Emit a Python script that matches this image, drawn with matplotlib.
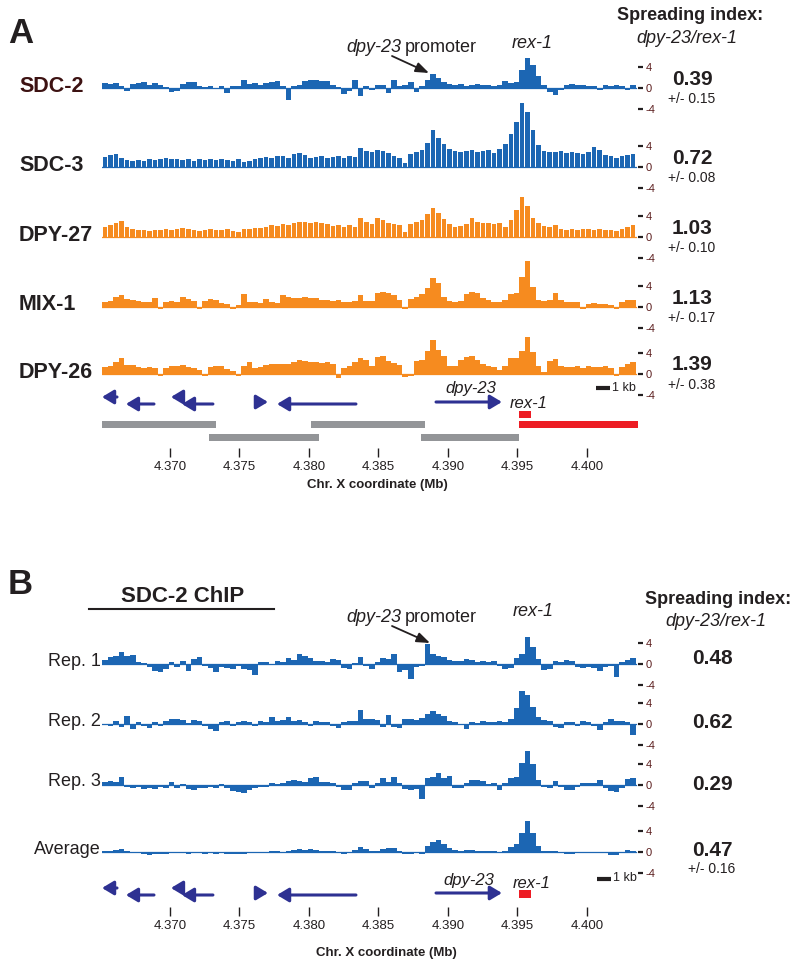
import matplotlib
matplotlib.use('Agg')
import matplotlib.pyplot as plt
import numpy as np

plt.rcParams['font.family'] = ['Liberation Sans', 'DejaVu Sans']

W, H = 800, 969
fig = plt.figure(figsize=(8, 9.69), dpi=100)

# genomic window (Mb) and bin layout of the signal tracks
X0, X1 = 4.36511, 4.40367
BIN_START = 4.36512
BIN = 0.0004

# ---------------- data: ChIP signal (log2 enrichment), 400 bp bins ----------------
sdc2 = [0.9, 0.8, 1.0, 0.4, -0.5, 0.7, 1.0, 1.2, 0.6, 0.9, 0.6, 0.2, -0.8, -0.6, 0.8, 1.2,
        1.1, 0.4, 0.1, 0.3, -0.2, 0.3, -1.0, 0.3, 0.4, 1.6, 0.8, 1.0, 0.6, 0.9, 1.1, 1.4,
        0.4, -2.2, 0.4, 0.5, 1.4, 1.5, 1.6, 1.3, 1.4, 0.6, 0.2, -1.2, -0.6, 1.6, -1.6, 0.4,
        -0.3, 0.5, 0.6, -1.0, 1.5, 0.3, 0.5, 1.2, -0.8, 0.4, 1.6, 2.6, 2.0, 1.2, 0.8, 0.5,
        0.7, 0.4, 0.6, 0.8, 0.5, 0.6, 0.4, 0.5, 1.4, 1.0, 1.1, 3.4, 5.7, 4.4, 2.2, 0.6,
        -0.8, -1.4, -0.4, 0.6, 0.7, 0.5, 0.6, 0.4, 0.4, -0.4, 0.5, 0.3, 0.6, 0.4, -0.4, 0.5]
sdc3 = [1.9, 2.2, 2.5, 1.8, 1.3, 1.2, 1.4, 1.1, 1.5, 1.3, 1.6, 1.7, 1.5, 1.6, 1.4, 1.5,
        1.2, 1.6, 1.4, 1.5, 1.3, 1.6, 1.4, 1.2, 1.5, 1.0, 1.1, 1.6, 1.8, 1.9, 1.7, 2.0,
        2.1, 1.8, 2.4, 2.7, 2.2, 1.8, 1.9, 2.0, 1.8, 1.9, 2.0, 1.8, 2.0, 1.9, 3.6, 3.1,
        2.8, 3.2, 3.0, 2.6, 2.0, 1.7, 0.8, 2.4, 2.8, 3.3, 4.5, 7.0, 5.6, 4.4, 3.4, 3.0,
        2.8, 3.1, 3.3, 2.9, 3.0, 3.2, 2.7, 3.5, 4.3, 6.2, 8.5, 12.2, 10.5, 7.0, 4.2, 3.1,
        2.9, 2.8, 3.0, 2.6, 2.8, 2.7, 2.5, 2.9, 3.9, 3.2, 2.2, 2.0, 1.8, 2.1, 2.3, 2.4]
dpy27 = [1.9, 2.2, 2.6, 3.0, 2.0, 1.6, 1.3, 1.4, 1.2, 1.4, 1.3, 1.5, 1.4, 1.5, 1.7, 1.6,
         1.4, 1.2, 1.3, 1.5, 1.4, 1.3, 1.5, 1.2, 1.0, 1.6, 1.5, 1.7, 1.8, 2.0, 2.2, 2.1,
         2.4, 2.3, 2.6, 2.8, 2.9, 2.7, 2.9, 2.6, 2.5, 2.1, 2.2, 2.0, 2.3, 1.9, 3.6, 2.8,
         2.5, 3.6, 3.3, 2.6, 2.4, 2.2, 1.0, 2.5, 2.9, 3.3, 4.3, 5.6, 4.6, 3.5, 2.4, 2.0,
         2.1, 2.4, 3.6, 2.9, 2.6, 2.7, 2.5, 2.6, 2.0, 3.3, 5.2, 7.6, 6.0, 3.6, 2.6, 2.1,
         2.0, 2.2, 1.5, 1.4, 1.6, 1.4, 1.5, 1.6, 1.4, 1.5, 1.3, 1.4, 1.1, 1.5, 2.0, 2.3]
mix1 = [1.0, 1.2, 2.0, 2.3, 1.5, 1.3, 1.1, 0.9, 1.0, 1.8, -0.3, 1.0, 1.1, 1.0, 1.9, 1.6,
        1.2, -0.4, 1.2, 1.5, 1.3, 0.8, 0.6, -0.3, 0.4, 2.4, 0.9, 1.0, 0.8, 1.5, 0.9, 0.8,
        2.3, 1.9, 1.8, 1.7, 1.9, 1.7, 1.8, 1.4, 1.3, 1.2, 1.3, 1.0, 1.0, 1.1, 2.2, 1.1,
        1.2, 2.6, 2.8, 2.7, 2.3, 1.4, -0.4, 1.6, 1.9, 2.4, 3.6, 5.6, 4.6, 2.0, 1.2, 1.0,
        1.1, 2.4, 2.8, 2.6, 1.7, 1.4, 1.0, 0.9, 1.4, 2.4, 2.6, 5.8, 8.8, 3.8, 1.4, 1.2,
        1.3, 2.7, 1.3, 1.0, 0.9, 1.0, -0.4, 0.6, 0.7, 0.5, 0.6, 0.4, -0.3, 0.9, 1.4, 1.3]
dpy26 = [1.4, 1.6, 2.2, 3.0, 1.8, 1.7, 1.3, 1.2, 1.4, 1.1, -0.4, 1.2, 1.6, 1.5, 1.7, 1.4,
         1.2, 0.8, -0.3, 1.3, 1.6, 1.5, 1.0, 0.5, -0.4, 1.5, 2.2, 1.2, 1.3, 1.8, 1.9, 2.0,
         1.9, 2.0, 2.2, 2.6, 2.4, 2.3, 2.2, 2.1, 2.3, 2.0, -0.7, 1.2, 1.5, 2.2, 3.1, 2.6,
         1.6, 3.3, 3.5, 2.4, 2.1, 1.8, -0.5, -0.3, 2.4, 2.6, 4.3, 6.5, 4.6, 3.4, 1.6, 1.5,
         2.6, 3.2, 3.4, 2.6, 2.0, 1.6, 1.4, 0.8, 1.5, 3.1, 3.0, 4.4, 7.0, 4.2, 1.5, 0.3,
         2.4, 2.8, 1.5, 1.3, 1.4, 1.6, 1.2, 1.5, 1.4, 1.3, 1.5, 1.2, -0.4, 1.3, 2.0, 2.2]
rep1 = [0.8, 1.3, 1.6, 2.2, 1.5, 1.8, 0.3, 0.1, -0.6, -1.3, -1.5, -1.0, 0.4, -0.5, 0.6, -1.4,
        0.9, 1.3, -0.3, -0.8, -1.5, -0.6, -0.8, -0.9, -0.4, -1.0, -1.2, -2.0, 0.3, 0.4, -0.2, 0.5,
        0.3, 1.1, 0.8, 1.9, 1.6, 1.2, 0.6, 0.5, 0.4, 1.0, 0.7, -0.7, -0.9, 0.2, 1.3, -0.4,
        -1.0, 0.3, 1.2, 1.0, 2.0, -1.5, -1.2, -2.8, -0.5, -0.3, 3.8, 1.9, 1.6, 1.4, 0.8, 0.5,
        0.6, 1.0, 0.8, 0.4, 0.6, 0.3, 0.5, -0.4, -1.0, -0.8, 1.2, 2.0, 5.2, 3.2, 1.0, -1.2,
        -0.9, 0.6, 0.4, 0.7, 0.5, -0.5, -0.8, -0.6, -0.7, -1.4, -0.5, -0.3, -2.4, 0.4, 0.8, 1.1]
rep2 = [-0.2, -0.4, 0.5, -0.6, 1.5, -0.9, 0.3, -0.3, -0.8, 0.4, -0.3, 0.6, 0.9, 1.0, 0.7, 0.2,
        0.8, 0.5, -0.4, -0.9, -1.4, 0.3, 0.5, -0.3, 0.4, 0.6, 0.3, -0.3, 0.5, 0.4, 1.3, 0.6,
        0.8, 1.4, 0.6, 0.7, 0.4, -0.3, 0.5, 0.3, 0.4, -0.4, -0.8, 0.4, 0.5, 0.6, 2.6, 1.0,
        0.9, 0.8, -0.5, 1.8, -0.6, -0.8, 0.9, 1.0, 0.8, 1.2, 1.9, 2.4, 2.0, 1.6, 0.5, 0.4,
        -0.2, -0.9, 0.3, 0.2, 0.5, 0.3, 0.4, 0.6, 0.3, 0.9, 3.0, 6.2, 5.6, 3.2, 1.3, 0.8,
        0.6, -0.6, -0.8, 0.3, 0.4, -0.3, 0.5, 0.3, -0.4, -1.2, 0.4, 1.0, 0.6, 0.5, 0.4, -2.0]
rep3 = [0.5, 0.8, 0.6, 1.6, -0.4, -0.6, -0.3, -0.7, -0.5, -0.8, -0.4, -0.6, 0.5, -0.5, 0.2, -0.8,
        -0.9, -0.5, -0.6, -0.3, -0.5, 0.2, -0.6, -1.2, -1.4, -1.5, -1.0, -0.5, -0.4, -0.3, 0.3, 0.2,
        0.3, 0.7, 0.9, 0.8, 0.6, 1.4, 1.5, 0.6, 0.5, 0.3, -0.3, -0.9, -1.0, 0.4, 0.8, 0.7,
        -0.6, 0.3, 1.4, 0.5, 1.6, 0.4, -0.8, -0.9, -0.7, -2.6, 1.3, 1.5, 2.2, 1.3, 1.7, -0.5,
        -0.6, 0.4, 1.0, 0.9, 0.8, 0.2, 0.3, -0.9, 0.4, 1.4, 1.6, 4.2, 6.4, 4.0, 1.0, -0.4,
        -0.5, 0.7, -0.3, -0.9, -1.0, -0.3, 0.4, 0.3, 0.4, 0.9, -0.5, -1.2, -1.4, -0.6, 1.2, 1.3]
average = [0.2, 0.2, 0.3, 0.6, 0.1, -0.1, -0.2, -0.4, -0.5, -0.4, -0.3, -0.4, -0.1, -0.2, -0.1, -0.3,
           -0.2, -0.1, -0.3, -0.2, -0.3, -0.1, -0.3, -0.4, -0.3, -0.3, -0.2, -0.2, -0.1, -0.1, 0.1, 0.1,
           0.0, 0.2, 0.4, 0.5, 0.4, 0.5, 0.4, 0.2, 0.1, 0.1, -0.2, -0.3, -0.2, 0.3, 1.0, 0.6,
           0.2, 0.1, 0.6, 0.7, 0.8, 0.2, -0.4, -0.4, -0.2, -0.3, 1.2, 2.0, 2.2, 1.5, 0.8, 0.3,
           0.2, 0.3, 0.3, 0.2, 0.1, 0.1, 0.1, -0.2, 0.1, 0.9, 1.5, 3.6, 6.0, 3.6, 1.2, 0.2,
           0.2, 0.1, -0.2, -0.4, -0.4, -0.2, -0.1, -0.2, -0.2, -0.1, -0.2, -0.5, -0.6, -0.2, 0.4, 0.1]

names_A = ['SDC-2', 'SDC-3', 'DPY-27', 'MIX-1', 'DPY-26']
signals_A = [sdc2, sdc3, dpy27, mix1, dpy26]
index_A = ['0.39', '0.72', '1.03', '1.13', '1.39']
err_A = ['+/- 0.15', '+/- 0.08', '+/- 0.10', '+/- 0.17', '+/- 0.38']

names_B = ['Rep. 1', 'Rep. 2', 'Rep. 3', 'Average']
signals_B = [rep1, rep2, rep3, average]
index_B = ['0.48', '0.62', '0.29', '0.47']
err_B = ['', '', '', '+/- 0.16']

# genes (Mb): tail -> head
gene_tail = [4.36619, 4.36885, 4.37086, 4.37309, 4.37619, 4.38338, 4.38914]
gene_head = [4.36511, 4.36683, 4.37007, 4.37086, 4.37705, 4.37770, 4.39388]
gene_row = [-7, 0, -7, 0, -2, 0, -2]
# segments below the genes (Mb)
seg_start = [4.36511, 4.37281, 4.38014, 4.38806, 4.39511]
seg_end = [4.37331, 4.38072, 4.38834, 4.39511, 4.40367]
seg_row = [0, 1, 0, 1, 0]
seg_is_rex = [False, False, False, False, True]
rex1_site = (4.39511, 4.39597)

xticks = [4.370, 4.375, 4.380, 4.385, 4.390, 4.395, 4.400]

BLUE = '#1c66b3'
ORANGE = '#f68b1f'
TXT = '#231f20'
GENE = '#2e3192'
GRAY = '#939598'
RED = '#ed1c24'
TICKLAB = '#5a1c1c'

colors_A = [BLUE, BLUE, ORANGE, ORANGE, ORANGE]
barred_A = [False, True, True, False, False]
zero_A = [88, 167, 237, 307, 374]
zero_B = [664, 724, 785, 852]
idx_y_B = [658, 722, 784, 850]

U = 5.25  # px per signal unit
LO, HI = -5, 14
XL, XR = 102, 638


def track_axes(zero_px):
    bottom_px = zero_px - LO * U
    ax = fig.add_axes([XL / W, 1 - bottom_px / H, (XR - XL) / W, (HI - LO) * U / H])
    ax.set_xlim(X0, X1)
    ax.set_ylim(LO, HI)
    ax.patch.set_alpha(0)
    for s in ax.spines.values():
        s.set_visible(False)
    ax.set_xticks([])
    ax.yaxis.tick_right()
    ax.set_yticks([-4, 0, 4])
    ax.set_yticklabels(['-4', '0', '4'])
    ax.tick_params(axis='y', length=3.5, width=1.6, pad=2, labelsize=8,
                   color=TXT, labelcolor=TICKLAB)
    return ax


def draw_signal(ax, vals, color, barred):
    v = np.asarray(vals, dtype=float)
    edges = BIN_START + BIN * np.arange(len(v) + 1)
    if barred:
        centers = (edges[:-1] + edges[1:]) / 2
        ax.bar(centers, v, width=BIN * 0.82, color=color, linewidth=0)
    else:
        ax.stairs(v, edges, baseline=0, fill=True, color=color, linewidth=0)
    ax.plot([edges[0], edges[-1]], [0, 0], color=color, lw=0.9)


def gene_axes(top_px, bottom_px):
    ax = fig.add_axes([XL / W, 1 - bottom_px / H, (XR - XL) / W, (bottom_px - top_px) / H])
    ax.set_xlim(X0, X1)
    ax.set_ylim(bottom_px, top_px)
    ax.patch.set_alpha(0)
    for s in ax.spines.values():
        s.set_visible(False)
    ax.set_yticks([])
    ax.set_xticks(xticks)
    ax.set_xticklabels(['%.3f' % t for t in xticks])
    ax.tick_params(axis='x', length=6.5, width=1.0, pad=3, labelsize=9.5,
                   color=TXT, labelcolor=TXT)
    return ax


def draw_genes(ax, base_y):
    for t, h, r in zip(gene_tail, gene_head, gene_row):
        ax.annotate('', xy=(h, base_y + r), xytext=(t, base_y + r),
                    arrowprops=dict(arrowstyle='-|>,head_length=0.7,head_width=0.42',
                                    mutation_scale=10, lw=2.2, color=GENE,
                                    shrinkA=0, shrinkB=0))


# overlay for text in pixel coordinates
ov = fig.add_axes([0, 0, 1, 1])
ov.set_xlim(0, W)
ov.set_ylim(H, 0)
ov.axis('off')

# ---------------- Panel A ----------------
for name, sig, col, barred, z, idx, err in zip(names_A, signals_A, colors_A, barred_A,
                                               zero_A, index_A, err_A):
    ax = track_axes(z)
    draw_signal(ax, sig, col, barred)
    ov.text(19, z - 2, name, ha='left', va='center', fontsize=15.5, fontweight='bold',
            color='#3d1212' if name == 'SDC-2' else TXT)
    ov.text(692, z - 9, idx, ha='center', va='center', fontsize=15, fontweight='bold', color=TXT)
    ov.text(692, z + 11, err, ha='center', va='center', fontsize=10, color=TXT)

gA = gene_axes(380, 448)
draw_genes(gA, 404)
for s0, s1, r, rex in zip(seg_start, seg_end, seg_row, seg_is_rex):
    gA.barh(424.5 + 13 * r, s1 - s0, left=s0, height=7.5, color=RED if rex else GRAY, linewidth=0)
gA.barh(414.5, rex1_site[1] - rex1_site[0], left=rex1_site[0], height=7.5, color=RED, linewidth=0)
gA.plot([4.40065, 4.40165], [388, 388], color=TXT, lw=3, solid_capstyle='butt')
ov.text(612, 388, '1 kb', ha='left', va='center', fontsize=9, color=TXT)
ov.text(471, 389, 'dpy-23', ha='center', va='center', fontsize=12, style='italic', color=TXT)
ov.text(529, 404, 'rex-1', ha='center', va='center', fontsize=12, style='italic', color=TXT)
ov.text(377, 485, 'Chr. X coordinate (Mb)', ha='center', va='center', fontsize=9.5,
        fontweight='bold', color=TXT)

ov.text(8, 33, 'A', ha='left', va='center', fontsize=25, fontweight='bold', color=TXT)
ov.text(690, 15, 'Spreading index:', ha='center', va='center', fontsize=13,
        fontweight='bold', color=TXT)
ov.text(687, 38, 'dpy-23/rex-1', ha='center', va='center', fontsize=13, style='italic', color=TXT)
ov.text(401, 47, 'dpy-23', ha='right', va='center', fontsize=13, style='italic', color=TXT)
ov.text(405, 47, 'promoter', ha='left', va='center', fontsize=13, color=TXT)
ov.text(532, 43, 'rex-1', ha='center', va='center', fontsize=13, style='italic', color=TXT)
ov.annotate('', xy=(429, 73), xytext=(392, 56),
            arrowprops=dict(arrowstyle='-|>,head_length=0.8,head_width=0.3', mutation_scale=10,
                            lw=1.3, color=TXT, shrinkA=0, shrinkB=0))

# ---------------- Panel B ----------------
for name, sig, z, idx, iy, err in zip(names_B, signals_B, zero_B, index_B, idx_y_B, err_B):
    ax = track_axes(z)
    draw_signal(ax, sig, BLUE, False)
    ov.text(101, z - 3, name, ha='right', va='center', fontsize=13, color=TXT)
    ov.text(712, iy, idx, ha='center', va='center', fontsize=15, fontweight='bold', color=TXT)
    if err:
        ov.text(712, iy + 19, err, ha='center', va='center', fontsize=10, color=TXT)

gB = gene_axes(872, 907)
draw_genes(gB, 895)
gB.barh(894, rex1_site[1] - rex1_site[0], left=rex1_site[0], height=8, color=RED, linewidth=0)
gB.plot([4.40072, 4.40172], [879, 879], color=TXT, lw=3, solid_capstyle='butt')
ov.text(613, 878, '1 kb', ha='left', va='center', fontsize=9, color=TXT)
ov.text(469, 880, 'dpy-23', ha='center', va='center', fontsize=12, style='italic', color=TXT)
ov.text(532, 883, 'rex-1', ha='center', va='center', fontsize=12, style='italic', color=TXT)
ov.text(386, 953, 'Chr. X coordinate (Mb)', ha='center', va='center', fontsize=9.5,
        fontweight='bold', color=TXT)

ov.text(8, 585, 'B', ha='left', va='center', fontsize=25, fontweight='bold', color=TXT)
ov.text(183, 597, 'SDC-2 ChIP', ha='center', va='center', fontsize=16, fontweight='bold', color=TXT)
ov.plot([89, 274], [609, 609], color=TXT, lw=1.5)
ov.text(718, 600, 'Spreading index:', ha='center', va='center', fontsize=13,
        fontweight='bold', color=TXT)
ov.text(716, 622, 'dpy-23/rex-1', ha='center', va='center', fontsize=13, style='italic', color=TXT)
ov.text(401, 617, 'dpy-23', ha='right', va='center', fontsize=13, style='italic', color=TXT)
ov.text(405, 617, 'promoter', ha='left', va='center', fontsize=13, color=TXT)
ov.text(533, 612, 'rex-1', ha='center', va='center', fontsize=13, style='italic', color=TXT)
ov.annotate('', xy=(430, 643), xytext=(392, 626),
            arrowprops=dict(arrowstyle='-|>,head_length=0.8,head_width=0.3', mutation_scale=10,
                            lw=1.3, color=TXT, shrinkA=0, shrinkB=0))

fig.savefig('out.png', dpi=100)
